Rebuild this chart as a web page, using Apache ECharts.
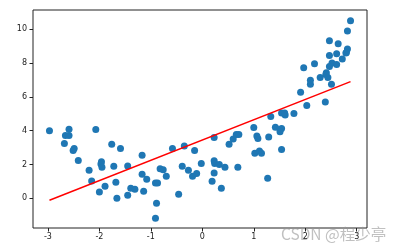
<!DOCTYPE html>
<html>
<head>
<meta charset="utf-8">
<script src="https://cdn.jsdelivr.net/npm/echarts@6/dist/echarts.min.js"></script>
<style>
  html, body { margin: 0; padding: 0; background: #fff; }
  #chart { width: 401px; height: 251px; }
</style>
</head>
<body>
<div id="chart"></div>
<script>
// scatter points
const xs = [
  -2.97, -2.59, -2.66, -2.59, -2.68, -2.49, -2.51, -2.41, -2.07, -1.76,
  -1.59, -1.96, -1.97, -1.95, -2.20, -2.15, -2.00, -1.89, -1.72, -1.68,
  -1.66, -1.45, -1.45, -1.39, -1.31, -1.17, -1.17, -1.08, -1.14, -0.82,
  -0.76, -0.70, -0.91, -0.87, -0.89, -0.91, -0.58, -0.35, -0.46, -0.39,
  -0.27, -0.19, -0.11, -0.15, -0.02, 0.23, 0.19, 0.23, 0.24, 0.23,
  0.33, 0.44, 0.37, 0.52, 0.60, 0.66, 0.71, 0.69, 1.00, 1.02,
  1.11, 1.06, 1.08, 1.33, 1.54, 1.61, 1.60, 1.78, 2.03, 2.39,
  1.42, 1.51, 1.54, 1.51, 1.29, 1.15, 1.54, 1.27, 2.88, 2.82,
  2.47, 2.64, 2.61, 2.47, 2.82, 2.80, 2.79, 2.72, 2.52, 2.61,
  2.47, 2.18, 1.97, 2.41, 2.40, 2.44, 2.29, 2.10, 2.10, 2.51,
  1.91
];
const ys = [
  4.00, 4.09, 3.72, 3.72, 3.24, 2.95, 2.83, 2.24, 4.07, 3.19,
  2.95, 2.16, 2.02, 1.83, 1.65, 1.02, 0.37, 0.71, 1.89, 0.94,
  0.00, 1.91, 0.18, 0.59, 0.53, 2.54, 1.42, 1.12, 0.41, 1.75,
  1.69, 1.30, 0.90, 0.90, -0.30, -1.18, 2.95, 3.09, 0.24, 1.89,
  1.65, 1.30, 1.47, 2.83, 2.06, 3.60, 1.00, 2.22, 2.06, 1.49,
  2.00, 1.83, 0.59, 3.19, 3.50, 3.78, 3.78, 1.83, 4.19, 2.66,
  2.80, 3.68, 3.54, 4.84, 5.05, 4.93, 5.05, 5.01, 5.49, 5.70,
  4.20, 4.07, 4.13, 3.93, 3.62, 2.66, 2.89, 1.18, 10.50, 9.89,
  9.32, 9.14, 8.55, 8.45, 8.83, 8.63, 8.59, 8.24, 8.00, 7.92,
  7.80, 7.96, 7.73, 7.43, 7.32, 7.14, 7.14, 6.98, 6.74, 6.74,
  6.27
];

// fitted line end points
const lineX = [-2.97, 2.88];
const lineY = [-0.12, 6.90];

const xTicks = [-3, -2, -1, 0, 1, 2, 3];
const yTicks = [0, 2, 4, 6, 8, 10];

const chart = echarts.init(document.getElementById('chart'));

const labelStyle = {
    color: '#222',
    fontSize: 8,
    fontFamily: 'DejaVu Sans',
    formatter: v => String(v)
};

chart.setOption({
    animation: false,
    grid: {
        left: 33,
        top: 10,
        right: 34,
        bottom: 23,
        show: true,
        borderColor: '#222',
        borderWidth: 1
    },
    xAxis: {
        type: 'value',
        min: -3.29,
        max: 3.2,
        axisLine: { show: false, onZero: false },
        splitLine: { show: false },
        axisTick: { show: true, length: 3.5, lineStyle: { color: '#222' }, customValues: xTicks },
        axisLabel: Object.assign({ margin: 5, customValues: xTicks }, labelStyle)
    },
    yAxis: {
        type: 'value',
        min: -1.76,
        max: 11.14,
        axisLine: { show: false, onZero: false },
        splitLine: { show: false },
        axisTick: { show: true, length: 3.5, lineStyle: { color: '#222' }, customValues: yTicks },
        axisLabel: Object.assign({ margin: 6, customValues: yTicks }, labelStyle)
    },
    series: [
        {
            type: 'scatter',
            data: xs.map((x, i) => [x, ys[i]]),
            symbolSize: 7,
            itemStyle: { color: '#1f77b4', opacity: 1 }
        },
        {
            type: 'line',
            data: lineX.map((x, i) => [x, lineY[i]]),
            showSymbol: false,
            lineStyle: { color: 'red', width: 1.5 }
        }
    ],
    graphic: [
        {
            type: 'text',
            left: 281,
            top: 226,
            style: {
                text: 'CSDN @程少亭',
                fontSize: 15.5,
                fontFamily: 'Noto Sans CJK SC',
                fill: 'rgba(150,150,150,0.6)'
            }
        }
    ]
});
</script>
</body>
</html>
